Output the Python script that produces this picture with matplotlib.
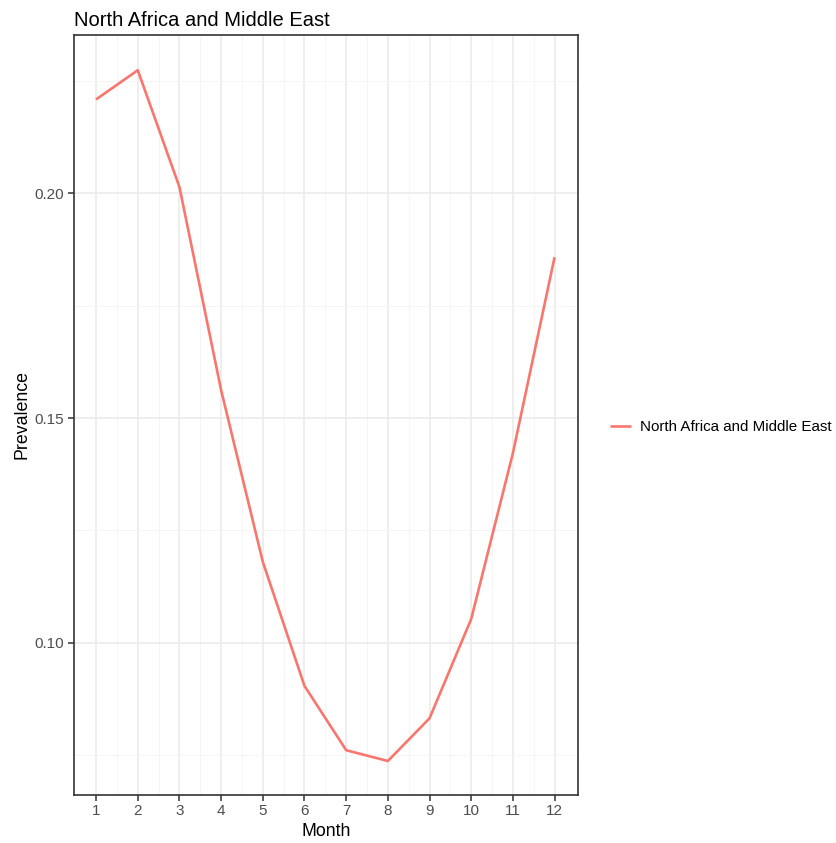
import matplotlib
matplotlib.use("Agg")
import matplotlib.pyplot as plt
from matplotlib.ticker import FixedLocator

plt.rcParams['font.family'] = ['Liberation Sans', 'DejaVu Sans']

months = [1, 2, 3, 4, 5, 6, 7, 8, 9, 10, 11, 12]
prevalence = [0.2209, 0.2274, 0.2014, 0.1562, 0.1180, 0.0904,
              0.0761, 0.0737, 0.0832, 0.1053, 0.1422, 0.1858]
series_name = "North Africa and Middle East"
y_ticks = [0.10, 0.15, 0.20]
y_tick_labels = ["0.10", "0.15", "0.20"]

W, H = 836, 843
fig = plt.figure(figsize=(W / 100, H / 100), dpi=100)
ax = fig.add_axes([74 / W, 1 - 794.7 / H, (577.5 - 74) / W, (794.7 - 34.7) / H])

ax.plot(months, prevalence, color="#F8766D", lw=1.9, solid_capstyle="butt", zorder=3,
        label=series_name)

ax.set_xlim(0.47, 12.55)
ax.set_ylim(0.0662, 0.2353)
ax.set_xticks(months)
ax.set_xticklabels([str(m) for m in months])
ax.set_yticks(y_ticks)
ax.set_yticklabels(y_tick_labels)
ax.xaxis.set_minor_locator(FixedLocator([m + 0.5 for m in months[:-1]]))
ax.yaxis.set_minor_locator(FixedLocator([0.075, 0.125, 0.175, 0.225]))

ax.grid(which="major", color="#EBEBEB", lw=1.2, zorder=0)
ax.grid(which="minor", color="#F4F4F4", lw=0.6, zorder=0)
ax.set_axisbelow(True)

for s in ax.spines.values():
    s.set_color("#333333")
    s.set_linewidth(1.2)

ax.tick_params(which="major", length=4, width=1.1, color="#333333",
               labelcolor="#4D4D4D", labelsize=11, pad=3)
ax.tick_params(which="minor", length=0)

ax.set_xlabel("Month", fontsize=12.8, color="black", labelpad=3)
ax.set_ylabel("Prevalence", fontsize=12.8, color="black", labelpad=3)
ax.set_title(series_name, fontsize=14.5, loc="left", color="black", pad=6)

leg = fig.legend(handles=ax.get_lines(), loc="center left",
                 bbox_to_anchor=(610 / W, 1 - 427 / H), frameon=False,
                 fontsize=10.9, handlelength=1.4, handletextpad=0.55,
                 borderpad=0, borderaxespad=0)

fig.savefig("out.png", dpi=100)
